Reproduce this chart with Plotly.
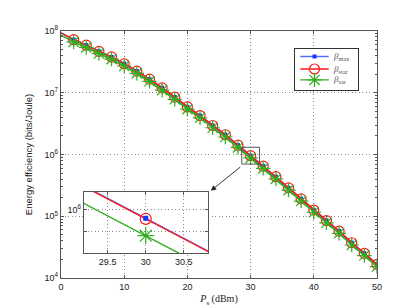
import plotly.graph_objects as go

# ---- data ----
ps_dbm = [0, 2, 4, 6, 8, 10, 12, 14, 16, 18, 20, 22, 24, 26, 28, 30, 32, 34, 36, 38, 40, 42, 44, 46, 48, 50]
beta_max = [9.36e7, 7.26e7, 5.91e7, 4.69e7, 3.81e7, 2.96e7, 2.25e7, 1.665e7, 1.204e7, 8.54e6, 5.91e6,
            4.28e6, 2.96e6, 2.10e6, 1.420e6, 9.60e5, 6.49e5, 4.38e5, 2.89e5, 1.92e5, 1.264e5, 8.54e4,
            5.77e4, 3.73e4, 2.52e4, 1.665e4]
beta_star = [9.33e7, 7.24e7, 5.89e7, 4.68e7, 3.80e7, 2.95e7, 2.24e7, 1.66e7, 1.20e7, 8.51e6, 5.89e6,
             4.27e6, 2.95e6, 2.09e6, 1.416e6, 9.57e5, 6.47e5, 4.37e5, 2.88e5, 1.91e5, 1.26e5, 8.51e4,
             5.75e4, 3.72e4, 2.51e4, 1.66e4]
beta_sar = [8.58e7, 6.66e7, 5.42e7, 4.31e7, 3.50e7, 2.71e7, 2.06e7, 1.53e7, 1.10e7, 7.83e6, 5.42e6,
            3.93e6, 2.71e6, 1.92e6, 1.303e6, 8.81e5, 5.95e5, 4.02e5, 2.65e5, 1.76e5, 1.16e5, 7.83e4,
            5.29e4, 3.42e4, 2.31e4, 1.53e4]

series_names = ["<i>β</i><sub>max</sub>", "<i>β</i><sub>star</sub>", "<i>β</i><sub>sar</sub>"]

y_tickvals = [1e4, 1e5, 1e6, 1e7, 1e8]
y_ticktext = ["10<sup>4</sup>", "10<sup>5</sup>", "10<sup>6</sup>", "10<sup>7</sup>", "10<sup>8</sup>"]
y_minor_vals = [m * d for d in (1e4, 1e5, 1e6, 1e7) for m in (2, 3, 4, 5, 6, 7, 8, 9)]
x_tickvals = [0, 10, 20, 30, 40, 50]

inset_x_range = [29.19, 30.82]
inset_y_range_log = [5.907, 6.038]
inset_x_ticks = [29.5, 30, 30.5]
inset_y_ticks = [9e5, 1e6]
inset_y_ticktext = ["", "10<sup>6</sup>"]
inset_point = 30

zoom_box_x = [28.6, 31.4]
zoom_box_y = [7.0e5, 1.31e6]

C_BLUE = "#4f6fff"
C_BLUE_M = "#1a33ff"
C_RED = "#ff1a1a"
C_GREEN = "#2fae1f"

series = [
    (series_names[0], beta_max, C_BLUE, dict(symbol="square", size=4, color=C_BLUE_M)),
    (series_names[1], beta_star, C_RED, dict(symbol="circle-open", size=10, color=C_RED, line=dict(width=1.2, color=C_RED))),
    (series_names[2], beta_sar, C_GREEN, dict(symbol="asterisk-open", size=12, color=C_GREEN, line=dict(width=1.2, color=C_GREEN))),
]

fig = go.Figure()

# main plot
for name, ys, col, mk in series:
    fig.add_trace(go.Scatter(x=ps_dbm, y=ys, mode="lines", line=dict(color=col, width=1.4),
                             showlegend=False, hoverinfo="skip", xaxis="x", yaxis="y"))
for name, ys, col, mk in series:
    fig.add_trace(go.Scatter(x=ps_dbm[1:], y=ys[1:], mode="lines+markers", name=name,
                             line=dict(color=col, width=1.4), marker=mk, showlegend=False,
                             xaxis="x", yaxis="y"))

# inset plot
i30 = ps_dbm.index(inset_point)
for name, ys, col, mk in series:
    fig.add_trace(go.Scatter(x=ps_dbm, y=ys, mode="lines", line=dict(color=col, width=1.4),
                             showlegend=False, hoverinfo="skip", xaxis="x2", yaxis="y2"))
for name, ys, col, mk in series:
    mk2 = dict(mk)
    if mk2["symbol"] == "circle-open":
        mk2["size"] = 11
    if mk2["symbol"] == "asterisk-open":
        mk2["size"] = 14
    if mk2["symbol"] == "square":
        mk2["size"] = 5
    fig.add_trace(go.Scatter(x=[ps_dbm[i30]], y=[ys[i30]], mode="markers", marker=mk2,
                             showlegend=False, hoverinfo="skip", xaxis="x2", yaxis="y2"))

# custom legend box (own small axes, units = pixels inside the box)
LEG_W, LEG_H = 63, 41.6
leg_rows = [33.6, 21.0, 10.0]
for (name, ys, col, mk), ry in zip(series, leg_rows):
    fig.add_trace(go.Scatter(x=[5.6, 34], y=[ry, ry], mode="lines", line=dict(color=col, width=1.4),
                             showlegend=False, hoverinfo="skip", xaxis="x3", yaxis="y3"))
    fig.add_trace(go.Scatter(x=[19.8], y=[ry], mode="markers", marker=mk,
                             showlegend=False, hoverinfo="skip", xaxis="x3", yaxis="y3"))
    fig.add_annotation(xref="x3", yref="y3", x=36.5, y=ry, text=name, showarrow=False,
                       xanchor="left", yanchor="middle",
                       font=dict(family="Liberation Serif, Times New Roman, serif", size=9, color="#555"))

axis_font = dict(family="Liberation Sans, Arial, sans-serif", size=9, color="#222")
grid_common = dict(showgrid=True, gridcolor="#8a8a8a", griddash="1px,2.5px", gridwidth=1,
                   showline=True, linecolor="#555", linewidth=1.2, mirror="ticks",
                   ticks="inside", ticklen=3, tickcolor="#555", zeroline=False, tickfont=axis_font)

fig.update_layout(
    width=408, height=307,
    margin=dict(l=53, r=39, t=23, b=35),
    paper_bgcolor="white", plot_bgcolor="white",
    showlegend=False,
    xaxis=dict(range=[0, 50], tickvals=x_tickvals, domain=[0, 1],
               title=dict(text="<i>P</i><sub>s</sub> (dBm)", standoff=4,
                          font=dict(family="Liberation Serif, Times New Roman, serif", size=10, color="#222")),
               **grid_common),
    yaxis=dict(type="log", range=[4, 8], tickvals=y_tickvals, ticktext=y_ticktext, domain=[0, 1],
               minor=dict(tickvals=y_minor_vals, ticks="inside", ticklen=2, tickcolor="#555",
                          tickwidth=1, showgrid=False),
               title=dict(text="Energy efficiency (bits/Joule)", standoff=10,
                          font=dict(family="Liberation Sans, Arial, sans-serif", size=9.5, color="#222")),
               **grid_common),
    xaxis2=dict(range=inset_x_range, tickvals=inset_x_ticks, domain=[0.0728, 0.466], anchor="y2",
                **grid_common),
    yaxis2=dict(type="log", range=inset_y_range_log, tickvals=inset_y_ticks, ticktext=inset_y_ticktext,
                domain=[0.0992, 0.348], anchor="x2", **grid_common),
    xaxis3=dict(range=[0, LEG_W], domain=[0.7396, 0.9389], anchor="y3", showgrid=False,
                zeroline=False, showticklabels=False, ticks="", showline=True, mirror=True,
                linecolor="#333", linewidth=1.2, fixedrange=True),
    yaxis3=dict(range=[0, LEG_H], domain=[0.7618, 0.9289], anchor="x3", showgrid=False,
                zeroline=False, showticklabels=False, ticks="", showline=True, mirror=True,
                linecolor="#333", linewidth=1.2, fixedrange=True),
)

# white backgrounds for inset and legend (drawn in their own subplot layers)
fig.add_shape(type="rect", xref="x2 domain", yref="y2 domain", x0=0, x1=1, y0=0, y1=1,
              fillcolor="white", line=dict(width=0), layer="below")
fig.add_shape(type="rect", xref="x3 domain", yref="y3 domain", x0=0, x1=1, y0=0, y1=1,
              fillcolor="white", line=dict(width=0), layer="below")

# zoom box around the 30 dBm point on main axes
fig.add_shape(type="rect", xref="x", yref="y", x0=zoom_box_x[0], x1=zoom_box_x[1],
              y0=zoom_box_y[0], y1=zoom_box_y[1], line=dict(color="#555", width=1), layer="above")

# arrow from zoom box to inset
fig.add_annotation(xref="paper", yref="paper", x=0.474, y=0.353,
                   axref="pixel", ayref="pixel", ax=31, ay=-25,
                   showarrow=True, arrowhead=2, arrowsize=1.2, arrowwidth=0.9, arrowcolor="#222", text="")

fig.write_html("out.html")
